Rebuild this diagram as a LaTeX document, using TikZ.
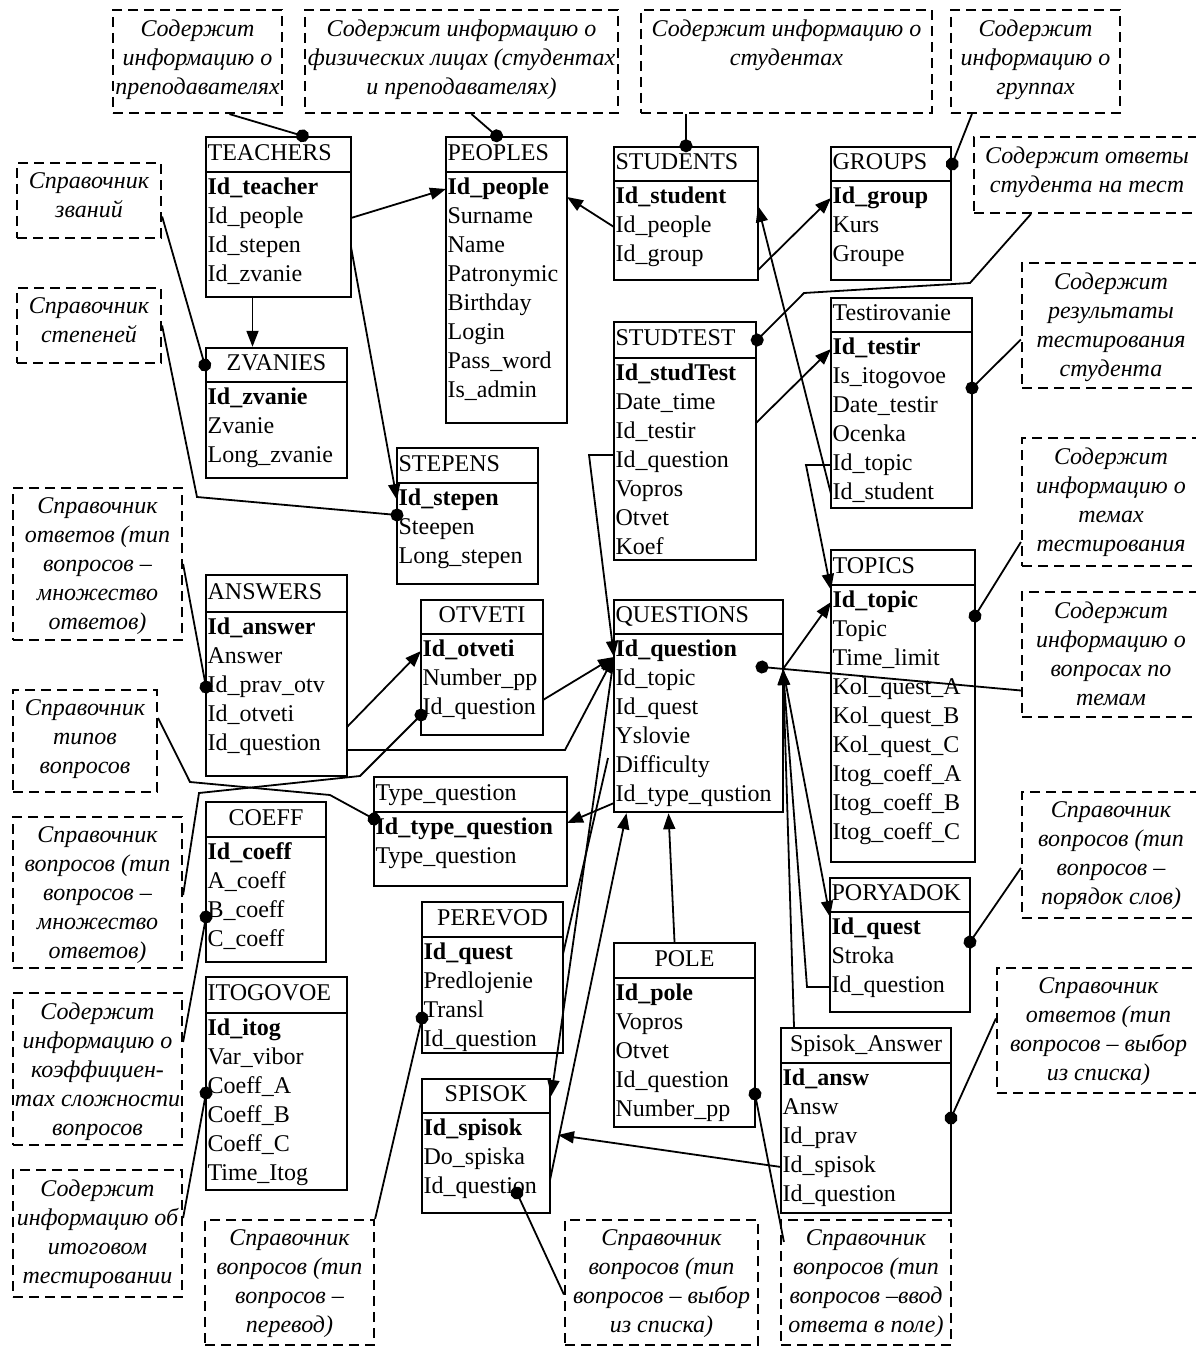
\documentclass[tikz,border=0pt]{standalone}
\usepackage{fontspec}
\setmainfont{Liberation Serif}
\usetikzlibrary{arrows.meta,fit}

\tikzset{
  tablebox/.style={draw, line width=1.2pt, inner sep=0pt},
  titletext/.style={inner sep=0.6pt, text height=8.2pt, text depth=2.6pt, font=\fontsize{12}{14.5}\selectfont},
  rowtext/.style={anchor=west, inner sep=0.6pt, text height=8.2pt, text depth=2.6pt, font=\fontsize{12}{14.5}\selectfont},
  notebox/.style={draw, line width=1.1pt, dash pattern=on 5pt off 3pt, inner sep=0pt},
  notetext/.style={anchor=north, align=center, inner sep=0pt, font=\fontsize{12}{14.5}\selectfont\itshape},
  fk/.style={line width=0.9pt, -{Triangle[length=8pt,width=6pt]}},
  link/.style={line width=0.9pt},
  notelink/.style={line width=0.9pt, -{Circle[length=6.5pt]}, shorten >=-3.25pt},
}

% table: name, left, top, right, title line, bottom, title align (l/c), title, rows
\newcommand{\dbtable}[9]{%
  \coordinate (#1-nw) at (#2,#3);
  \coordinate (#1-se) at (#4,#6);
  \node[tablebox, fit=(#1-nw)(#1-se)] (#1) {};
  \draw[line width=1.2pt] (#2,#5) -- (#4,#5);
  \if#7c
    \node[titletext] (#1-title) at ({(#2+#4)/2},{(#3+#5)/2}) {#8};
  \else
    \node[titletext, anchor=west] (#1-title) at (#2,{(#3+#5)/2}) {#8};
  \fi
  \foreach \r [count=\i] in {#9} {
    \coordinate (#1-l\i) at (#2,{#5+17+29*(\i-1)});
    \coordinate (#1-r\i) at (#4,{#5+17+29*(\i-1)});
    \node[rowtext] (#1-\i) at (#1-l\i) {\ifnum\i=1 \bfseries\fi\r};
  }%
}

% note: name, left, top, right, bottom, text
\newcommand{\dbnote}[6]{%
  \node[notebox, fit={(#2,#3) (#4,#5)}] (#1) {};
  \node[notetext] (#1-text) at ({(#2+#4)/2},{#3+9}) {#6};
}

\begin{document}
\begin{tikzpicture}[x=0.5pt, y=-0.5pt]
\useasboundingbox (0,0) rectangle (1195,1348);

% Draw the tables
\dbtable{teachers}{206}{137}{351}{172}{297}{l}{TEACHERS}{Id\_teacher,Id\_people,Id\_stepen,Id\_zvanie}
\dbtable{peoples}{446}{137}{567}{172}{423}{l}{PEOPLES}{Id\_people,Surname,Name,Patronymic,Birthday,Login,Pass\_word,Is\_admin}
\dbtable{students}{614}{147}{758}{181}{280}{l}{STUDENTS}{Id\_student,Id\_people,Id\_group}
\dbtable{groups}{831}{147}{951}{181}{280}{l}{GROUPS}{Id\_group,Kurs,Groupe}
\dbtable{zvanies}{206}{348}{347}{382}{478}{c}{ZVANIES}{Id\_zvanie,Zvanie,Long\_zvanie}
\dbtable{stepens}{397}{448}{538}{483}{584}{l}{STEPENS}{Id\_stepen,Steepen,Long\_stepen}
\dbtable{studtest}{614}{322}{756}{358}{560}{l}{STUDTEST}{Id\_studTest,Date\_time,Id\_testir,Id\_question,Vopros,Otvet,Koef}
\dbtable{testir}{831}{298}{972}{332}{508}{l}{Testirovanie}{Id\_testir,Is\_itogovoe,Date\_testir,Ocenka,Id\_topic,Id\_student}
\dbtable{answers}{206}{575}{347}{612}{776}{l}{ANSWERS}{Id\_answer,Answer,Id\_prav\_otv,Id\_otveti,Id\_question}
\dbtable{otveti}{421}{600}{543}{634}{735}{c}{OTVETI}{Id\_otveti,Number\_pp,Id\_question}
\dbtable{questions}{614}{600}{783}{634}{812}{l}{QUESTIONS}{Id\_question,Id\_topic,Id\_quest,Yslovie,Difficulty,Id\_type\_qustion}
\dbtable{topics}{831}{550}{975}{585}{862}{l}{TOPICS}{Id\_topic,Topic,Time\_limit,Kol\_quest\_A,Kol\_quest\_B,Kol\_quest\_C,Itog\_coeff\_A,Itog\_coeff\_B,Itog\_coeff\_C}
\dbtable{typeq}{374}{777}{567}{812}{886}{l}{Type\_question}{Id\_type\_question,Type\_question}
\dbtable{coeff}{206}{802}{326}{837}{962}{c}{COEFF}{Id\_coeff,A\_coeff,B\_coeff,C\_coeff}
\dbtable{perevod}{422}{902}{563}{937}{1053}{c}{PEREVOD}{Id\_quest,Predlojenie,Transl,Id\_question}
\dbtable{pole}{614}{943}{755}{978}{1127}{c}{POLE}{Id\_pole,Vopros,Otvet,Id\_question,Number\_pp}
\dbtable{poryadok}{830}{878}{970}{912}{1012}{l}{PORYADOK}{Id\_quest,Stroka,Id\_question}
\dbtable{itogovoe}{206}{977}{347}{1013}{1190}{l}{ITOGOVOE}{Id\_itog,Var\_vibor,Coeff\_A,Coeff\_B,Coeff\_C,Time\_Itog}
\dbtable{spisok}{422}{1079}{550}{1113}{1213}{c}{SPISOK}{Id\_spisok,Do\_spiska,Id\_question}
\dbtable{spisokans}{781}{1028}{951}{1063}{1213}{c}{Spisok\_Answer}{Id\_answ,Answ,Id\_prav,Id\_spisok,Id\_question}

% Draw the dashed notes
\dbnote{c1}{113}{10}{282}{113}{Содержит\\информацию о\\преподавателях}
\dbnote{c2}{305}{10}{618}{113}{Содержит информацию о\\физических лицах (студентах\\и преподавателях)}
\dbnote{c3}{641}{10}{932}{113}{Содержит информацию о\\студентах}
\dbnote{c4}{951}{10}{1120}{113}{Содержит\\информацию о\\группах}
\dbnote{c5}{974}{137}{1200}{213}{Содержит ответы\\студента на тест}
\dbnote{c6}{17}{163}{161}{238}{Справочник\\званий}
\dbnote{c7}{17}{288}{161}{363}{Справочник\\степеней}
\dbnote{c8}{1022}{263}{1200}{388}{Содержит\\результаты\\тестирования\\студента}
\dbnote{c9}{1022}{438}{1200}{566}{Содержит\\информацию о\\темах\\тестирования}
\dbnote{c10}{1022}{592}{1200}{717}{Содержит\\информацию о\\вопросах по\\темам}
\dbnote{c11}{13}{488}{182}{640}{Справочник\\ответов (тип\\вопросов –\\множество\\ответов)}
\dbnote{c12}{13}{690}{157}{792}{Справочник\\типов\\вопросов}
\dbnote{c13}{13}{817}{182}{968}{Справочник\\вопросов (тип\\вопросов –\\множество\\ответов)}
\dbnote{c14}{13}{993}{182}{1145}{Содержит\\информацию о\\коэффициен-\\тах сложности\\вопросов}
\dbnote{c15}{13}{1170}{182}{1297}{Содержит\\информацию об\\итоговом\\тестировании}
\dbnote{c16}{205}{1220}{374}{1345}{Справочник\\вопросов (тип\\вопросов –\\перевод)}
\dbnote{c17}{565}{1220}{758}{1345}{Справочник\\вопросов (тип\\вопросов – выбор\\из списка)}
\dbnote{c18}{781}{1220}{951}{1345}{Справочник\\вопросов (тип\\вопросов –ввод\\ответа в поле)}
\dbnote{c19}{1022}{792}{1200}{918}{Справочник\\вопросов (тип\\вопросов –\\порядок слов)}
\dbnote{c20}{997}{968}{1200}{1093}{Справочник\\ответов (тип\\вопросов – выбор\\из списка)}

% Notes to tables
\draw[notelink] ([xshift=16pt]c1.south) -- ([xshift=12pt]teachers.north);
\draw[notelink] ([xshift=5pt]c2.south) -- ([xshift=-5pt]peoples.north);
\draw[notelink] (c3.south -| students.north) -- (students.north);
\draw[notelink] ([xshift=11pt]c4.south west) -- (groups.east |- groups-title);
\draw[notelink] ([xshift=29pt]c5.south west) -- (970,283) -- (804,293) -- (studtest.east |- studtest-title);
\draw[notelink] ([yshift=-8pt]c6.east) -- (zvanies.west |- zvanies-title);
\draw[notelink] (c7.east) -- (197,497) -- ([yshift=-7.5pt]stepens-l1);
\draw[notelink] ([yshift=-7pt]c8.west) -- ([yshift=-5pt]testir-r2);
\draw[notelink] ([yshift=-20pt]c9.west) -- ([yshift=-7pt]topics-r1);
\draw[notelink] ([yshift=-18pt]c10.west) -- ([xshift=-10.5pt,yshift=-8pt]questions-r1);
\draw[notelink] (c11.east) -- (answers-l3);
\draw[notelink] ([yshift=11.5pt]c12.east) -- (190,782) -- (330,795) -- ([yshift=5pt]typeq-l1);
\draw[notelink] ([yshift=-1.25pt]c13.east) -- (199,793) -- (360,776) -- ([yshift=-3pt]otveti-l3);
\draw[notelink] ([yshift=13.5pt]c14.east) -- ([yshift=-2.5pt]coeff-l3);
\draw[notelink] ([yshift=7.75pt]c15.east) -- ([yshift=-2.5pt]itogovoe-l3);
\draw[notelink] (c16.north east) -- ([yshift=-3pt]perevod-l3);
\draw[notelink] ([yshift=-6pt]c17.west) -- ([xshift=-16.5pt,yshift=-2.5pt]spisok-r3);
\draw[notelink] ([xshift=2pt,yshift=-11.5pt]c18.north west) -- ([yshift=-6pt]pole-r4);
\draw[notelink] ([yshift=-6.5pt]c19.west) -- ([yshift=-6.5pt]poryadok-r1);
\draw[notelink] ([yshift=6pt]c20.west) -- ([yshift=-4.5pt]spisokans-r2);

% Keys between tables
\draw[fk] (teachers-r2) -- (peoples-l1);
\draw[fk] (teachers-r3) -- (stepens-l1);
\coordinate (tz) at ([xshift=-13pt]teachers.south);
\draw[fk] (tz) -- (tz |- zvanies.north);
\draw[fk] (students-l2) -- ([yshift=-4pt]peoples-r1);
\draw[fk] ([yshift=-7pt]students-r3) -- (groups-l1);
\draw[fk] (testir-l6) -- ([yshift=-4pt]students-r1);
\draw[fk] ([yshift=5pt]studtest-r3) -- (testir-l1);
\draw[fk] (testir-l5) -- ++(-25,0) -- ([yshift=6pt]topics-l1);
\draw[fk] ([yshift=-5.5pt]answers-r4) -- (otveti-l1);

% QUESTIONS in the middle
\coordinate (qr) at ([yshift=-9pt]questions-r1);
\coordinate (ql) at ([yshift=-3pt]questions-l1);
\draw[fk] ([yshift=3.5pt]studtest-l4) -- ++(-25,0) -- (ql);
\draw[fk] ([yshift=4.5pt]otveti-r3) -- (ql);
\draw[fk] ([yshift=-2.5pt]answers-r5) -- ++(218,0) -- (ql);
\draw[fk] (ql) -- (spisok.east |- spisok-title);
\draw[fk] ([yshift=4pt]spisok-r3) -- ([xshift=-36pt]questions.south);
\draw[link] (perevod-r1) -- ([xshift=-3pt,yshift=4.5pt]questions-l5);
\draw[fk] ([yshift=-3.5pt]questions-l6) -- ([yshift=3pt]typeq-r1);
\draw[fk] ([xshift=-5pt]pole.north) -- ([xshift=-15pt]questions.south);
\draw[fk] (qr) -- (topics-l1);
\draw[fk] (qr) -- ([yshift=6pt]poryadok-l1);
\draw[fk] (poryadok-l3) -- ++(-23,0) -- (qr);
\draw[fk] ([xshift=-36pt]spisokans.north) -- (qr);
\draw[fk] (spisokans-l4) -- ([xshift=4pt,yshift=-2.5pt]spisok-r1);

\end{tikzpicture}
\end{document}
